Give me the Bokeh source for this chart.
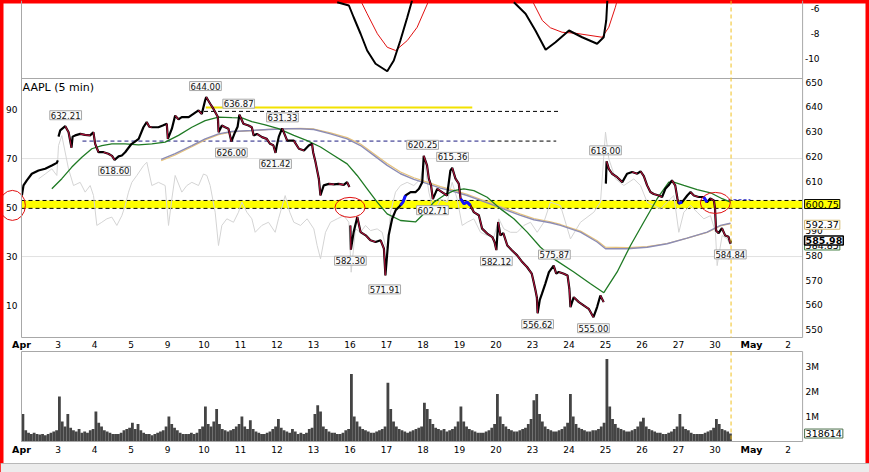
from bokeh.plotting import figure
from bokeh.models import Range1d, Label, ColumnDataSource
from bokeh.embed import file_html
from bokeh.resources import INLINE
from bokeh.core.properties import value, field

# ------------------------------------------------------------------ data
session_labels = ["Apr", "3", "4", "5", "9", "10", "11", "12", "13", "16", "17",
                  "18", "19", "20", "23", "24", "25", "26", "27", "30", "May", "2"]
session_is_month = [True] + [False] * 19 + [True, False]

# 5-min price path (x = trading-session index, Apr 2 = 0)
price_day = [0.01, 0.055, 0.146, 0.283, 0.466, 0.649, 0.831, 0.968, 0.995,
             1.014, 1.06, 1.2, 1.29, 1.37, 1.40, 1.47, 1.61, 1.74, 1.88, 1.97,
             2.018, 2.11, 2.25, 2.38, 2.48, 2.55, 2.66, 2.75, 2.84, 2.98,
             3.02, 3.1, 3.21, 3.34, 3.43, 3.5, 3.57, 3.75, 3.87, 3.98,
             4.01, 4.12, 4.21, 4.3, 4.39, 4.58, 4.71, 4.85, 4.94,
             5.03, 5.06, 5.17, 5.26, 5.38, 5.40, 5.49, 5.58, 5.67, 5.75, 5.85, 5.92, 5.97,
             6.08, 6.22, 6.31, 6.36, 6.45, 6.59, 6.72, 6.81, 6.9, 6.96, 6.99,
             7.05, 7.14, 7.28, 7.46, 7.6, 7.74, 7.87, 7.96, 7.99,
             8.055, 8.146, 8.19, 8.28, 8.42, 8.56, 8.69, 8.83, 8.92, 8.985,
             9.01, 9.025, 9.1, 9.2, 9.29, 9.43, 9.56, 9.7, 9.84, 9.93, 9.97,
             10.06, 10.155, 10.25, 10.38, 10.45, 10.52, 10.66, 10.8, 10.89, 10.98,
             11.02, 11.11, 11.16, 11.22, 11.27, 11.39, 11.52, 11.66, 11.75, 11.8, 11.89, 11.98,
             12.03, 12.12, 12.21, 12.3, 12.39, 12.53, 12.62, 12.76, 12.9, 12.96,
             13.01, 13.06, 13.12, 13.2, 13.31, 13.44, 13.58, 13.72, 13.85, 13.98,
             14.02, 14.08, 14.12, 14.14, 14.2, 14.26, 14.35, 14.45, 14.58, 14.65, 14.72, 14.86, 14.96,
             15.01, 15.04, 15.13, 15.27, 15.4, 15.54, 15.67, 15.77, 15.86, 15.95,
             16.01, 16.03, 16.09, 16.18, 16.32, 16.46, 16.59, 16.73, 16.87, 16.96,
             17.05, 17.14, 17.23, 17.32, 17.46, 17.55, 17.64, 17.73, 17.82, 17.91, 17.97,
             18.0, 18.1, 18.24, 18.33, 18.42, 18.55, 18.69, 18.78, 18.87, 18.97,
             19.0, 19.03, 19.1, 19.19, 19.28, 19.37, 19.42, 19.44]
price_val = [604.2, 608.3, 610.3, 613.0, 614.3, 615.0, 616.3, 617.4, 618.4,
             628.0, 630.5, 632.21, 629.8, 623.5, 628.0, 628.5, 629.1, 628.7, 628.5, 629.8,
             625.1, 621.7, 621.7, 621.1, 620.2, 618.6, 620.0, 620.4, 621.7, 624.4,
             625.1, 625.9, 627.1, 631.8, 633.9, 632.0, 631.8, 631.8, 632.5, 633.2,
             627.1, 631.2, 636.5, 635.0, 635.9, 635.9, 637.2, 638.6, 637.2,
             642.6, 644.0, 641.3, 639.2, 635.9, 629.8, 632.5, 631.8, 631.2, 626.0, 629.8, 632.0, 636.87,
             633.2, 632.5, 631.8, 628.5, 629.1, 627.8, 627.1, 625.1, 624.5, 621.42, 624.0,
             628.0, 631.33, 626.4, 626.4, 623.1, 622.4, 624.4, 625.1, 621.7,
             617.7, 611.0, 604.2, 608.3, 608.9, 608.7, 608.9, 608.5, 609.6, 607.6,
             592.1, 582.3, 589.4, 595.5, 589.4, 588.1, 586.1, 585.4, 586.1, 582.7, 571.91,
             588.1, 594.8, 598.2, 600.2, 601.5, 604.2, 605.6, 605.6, 606.9, 609.6,
             620.25, 616.4, 611.0, 608.3, 602.71, 606.9, 605.6, 604.2, 614.3, 615.36, 611.0, 609.0,
             602.9, 600.9, 601.5, 600.2, 597.5, 596.2, 590.8, 588.8, 587.4, 585.4,
             582.12, 593.5, 588.1, 589.0, 584.0, 582.0, 580.0, 577.3, 575.3, 572.6,
             570.0, 566.0, 563.0, 556.62, 562.0, 564.5, 568.5, 573.2, 575.87, 572.6, 573.3, 572.6, 571.9,
             566.5, 559.1, 563.1, 561.1, 559.8, 558.4, 555.0, 559.1, 563.8, 561.1,
             609.0, 618.0, 615.0, 613.0, 611.6, 609.6, 613.0, 613.7, 613.0, 614.0,
             612.0, 608.3, 605.6, 604.8, 604.2, 603.6, 606.9, 608.3, 610.3, 608.3, 603.0,
             601.0, 601.5, 604.2, 605.6, 604.2, 603.6, 603.6, 601.5, 603.0, 602.2,
             599.0, 590.0, 589.0, 591.0, 588.0, 587.5, 584.84, 585.98]
session_gaps = [1, 9, 16]
blue_spans = [(10.37, 10.53), (12.0, 12.32), (17.99, 18.12), (18.68, 18.8)]

# moving averages
ma_fast_day = [0.831, 1.105, 1.379, 1.653, 1.927, 2.201, 2.475, 2.84, 3.206, 3.571, 3.936,
               4.302, 4.667, 5.032, 5.397, 5.763, 6.037, 6.311, 6.676, 7.041, 7.461, 7.826,
               8.192, 8.557, 8.922, 9.196, 9.470, 9.744, 10.018, 10.384, 10.795, 11.023,
               11.297, 11.571, 11.845, 12.119, 12.393, 12.758, 13.123, 13.489, 13.854,
               14.219, 14.584, 15.132, 15.589, 15.954, 16.32, 16.685, 17.05, 17.415,
               17.735, 17.872, 18.146, 18.511, 18.876, 19.196, 19.424]
ma_fast_val = [606.9, 611.0, 615.7, 619.7, 623.1, 624.4, 625.1, 625.1, 624.7, 625.1, 625.8,
               628.5, 631.8, 634.5, 635.9, 635.7, 635.6, 634.1, 632.8, 631.2, 628.5, 626.4,
               623.8, 620.4, 617.0, 612.3, 606.9, 601.5, 596.8, 594.1, 593.5, 596.8,
               601.5, 604.2, 606.2, 606.9, 606.2, 603.5, 598.8, 594.8, 589.4,
               583.3, 578.6, 573.3, 568.5, 564.9, 573.3, 584.0, 593.5, 602.9,
               609.6, 609.6, 608.3, 606.6, 605.3, 602.9, 601.5]
ma_slow_day = [3.827, 4.21, 4.667, 5.032, 5.397, 5.763, 6.311, 6.767, 7.315, 7.644, 8.009,
               8.466, 8.922, 9.288, 9.653, 10.018, 10.384, 10.749, 11.114, 11.479, 11.845,
               12.21, 12.575, 12.941, 13.306, 13.671, 14.037, 14.493, 14.767, 15.315,
               15.772, 16.0, 16.593, 17.141, 17.689, 18.237, 18.785, 19.15, 19.424]
ma_slow_val = [618.8, 621.1, 624.4, 627.1, 629.1, 630.1, 630.5, 630.9, 631.2, 631.2, 630.9,
               629.1, 627.1, 624.4, 620.4, 616.4, 613.0, 610.7, 609.0, 607.2, 605.8,
               604.2, 602.2, 600.2, 598.2, 596.2, 594.4, 593.2, 592.1, 589.4,
               585.4, 582.7, 582.7, 583.3, 584.7, 587.0, 589.4, 592.1, 593.0]
ma_slow2_val = [618.3, 620.6, 623.9, 626.7, 628.8, 629.9, 630.4, 630.9, 631.2, 631.3, 631.1,
                629.5, 627.6, 625.0, 621.1, 617.1, 613.7, 611.4, 609.6, 607.8, 606.3,
                604.7, 602.7, 600.7, 598.7, 596.7, 594.9, 593.6, 592.5, 589.8,
                585.9, 583.3, 583.1, 583.5, 584.8, 587.0, 589.3, 591.9, 592.8]

# RSI-like oscillator against the left scale
rsi_day = [0.466, 0.649, 0.831, 0.968, 1.014, 1.105, 1.288, 1.425, 1.607, 1.744, 1.881, 1.973,
           2.064, 2.201, 2.338, 2.475, 2.612, 2.749, 2.840, 2.932, 3.023, 3.160, 3.343, 3.434,
           3.571, 3.754, 3.936, 4.028, 4.119, 4.210, 4.393, 4.530, 4.667, 4.850, 4.986,
           5.078, 5.169, 5.306, 5.397, 5.489, 5.626, 5.808, 5.945, 6.037, 6.174, 6.311, 6.402,
           6.585, 6.767, 6.950, 7.041, 7.224, 7.35, 7.461, 7.644, 7.826, 8.009, 8.10, 8.192,
           8.329, 8.466, 8.649, 8.831, 8.968, 9.032, 9.151, 9.288, 9.425, 9.562, 9.744, 9.881,
           9.97, 10.037, 10.11, 10.247, 10.384, 10.566, 10.749, 10.932, 11.041, 11.16, 11.297,
           11.479, 11.662, 11.799, 11.936, 12.073, 12.21, 12.393, 12.575, 12.758, 12.941,
           13.078, 13.215, 13.397, 13.58, 13.763, 13.945, 14.128, 14.31, 14.493, 14.767, 15.04,
           15.315, 15.68, 15.863, 16.0, 16.091, 16.274, 16.502, 16.776, 16.959, 17.141, 17.324,
           17.507, 17.689, 17.872, 18.009, 18.146, 18.329, 18.511, 18.694, 18.876, 19.013,
           19.059, 19.196, 19.333, 19.424]
rsi_val = [61.7, 63.7, 65.8, 63.1, 75.3, 79.4, 65.8, 59.0, 60.3, 56.3, 59.0, 54.9,
           42.7, 44.0, 45.4, 46.1, 42.7, 46.7, 50.8, 56.3, 60.3, 63.1, 67.1, 68.5,
           59.0, 60.3, 59.0, 42.7, 53.5, 63.1, 56.3, 59.0, 60.3, 59.0, 63.7,
           63.1, 59.0, 48.1, 34.5, 42.7, 45.4, 44.0, 48.1, 52.2, 48.1, 45.4, 39.9,
           42.7, 44.0, 39.9, 45.4, 54.9, 48.1, 44.0, 42.7, 45.4, 41.3, 34.5, 29.1,
           39.9, 44.0, 45.4, 46.7, 44.0, 23.6, 41.3, 39.9, 42.7, 40.6, 41.3, 39.9,
           34.5, 33.1, 48.1, 56.3, 59.0, 60.3, 59.0, 61.7, 68.5, 56.3, 48.1,
           53.5, 52.2, 60.3, 53.5, 42.7, 44.0, 45.4, 39.9, 38.6, 37.9,
           45.4, 41.3, 39.9, 39.9, 42.7, 44.0, 39.9, 44.0, 52.2, 50.8, 37.2,
           44.0, 48.1, 52.2, 80.8, 69.9, 61.7, 59.0, 61.7, 59.0, 52.2, 50.8,
           49.5, 52.2, 54.9, 39.9, 48.1, 50.8, 48.1, 45.4, 46.7, 39.9,
           26.3, 38.6, 37.2, 34.5]

# top panel oscillator (two visible pieces each)
osc_day = [[8.65, 8.97, 9.10, 9.29, 9.47, 9.70, 10.02, 10.20, 10.38, 10.57, 10.70],
           [13.49, 13.81, 14.08, 14.36, 14.63, 15.0, 15.36, 15.77, 15.95, 16.02, 16.05]]
osc_val = [[-5.50, -5.76, -6.70, -8.02, -9.36, -10.42, -11.02, -10.16, -8.56, -6.70, -5.36],
           [-5.50, -6.42, -7.76, -9.30, -8.70, -7.76, -8.30, -8.82, -8.30, -6.96, -5.36]]
sig_day = [[9.29, 9.47, 9.75, 10.02, 10.25, 10.57, 10.84, 11.16],
           [13.99, 14.27, 14.49, 14.81, 15.18, 15.91, 16.09, 16.27, 16.32]]
sig_val = [[-5.36, -6.42, -8.02, -9.10, -9.36, -8.56, -7.50, -5.36],
           [-5.36, -6.96, -7.54, -7.90, -7.98, -8.30, -7.50, -5.90, -5.36]]

# volume per session (millions, 30-minute buckets)
vol_sessions = [
    [1.10, 0.45, 0.35, 0.30, 0.35, 0.30, 0.28, 0.30, 0.25, 0.30, 0.35, 0.40, 0.45],
    [1.80, 0.80, 0.60, 1.10, 0.55, 0.45, 0.40, 0.50, 0.35, 0.40, 0.35, 0.45, 0.50],
    [1.20, 0.75, 0.60, 0.45, 0.40, 0.35, 0.30, 0.30, 0.30, 0.35, 0.45, 0.50, 0.55],
    [0.75, 0.50, 0.70, 0.45, 0.35, 0.30, 0.30, 0.25, 0.30, 0.35, 0.40, 0.45, 0.60],
    [1.00, 0.70, 0.55, 0.45, 0.35, 0.30, 0.30, 0.30, 0.35, 0.30, 0.35, 0.50, 0.60],
    [1.40, 0.70, 0.60, 0.80, 1.30, 0.70, 0.50, 0.45, 0.40, 0.45, 0.50, 0.60, 0.70],
    [1.00, 0.60, 0.50, 0.85, 0.50, 0.40, 0.35, 0.30, 0.30, 0.35, 0.40, 0.50, 0.60],
    [0.90, 0.55, 0.45, 0.40, 0.35, 0.50, 0.40, 0.30, 0.35, 0.30, 0.35, 0.50, 0.55],
    [1.10, 1.45, 1.20, 0.60, 0.50, 0.40, 0.35, 0.35, 0.30, 0.30, 0.35, 0.45, 0.50],
    [2.70, 1.00, 0.80, 0.60, 0.50, 0.45, 0.40, 0.35, 0.35, 0.40, 0.45, 0.50, 0.60],
    [2.35, 1.30, 0.80, 0.60, 0.50, 0.45, 0.40, 0.35, 0.40, 0.45, 0.50, 0.55, 0.60],
    [1.55, 1.30, 0.90, 0.70, 0.55, 0.50, 0.45, 0.50, 0.40, 0.45, 0.50, 0.60, 0.80],
    [1.40, 0.80, 0.60, 0.50, 0.45, 0.40, 0.35, 0.35, 0.35, 0.40, 0.45, 0.55, 0.70],
    [1.90, 1.00, 0.70, 0.60, 0.50, 0.45, 0.40, 0.40, 0.45, 0.50, 0.55, 0.70, 0.90],
    [1.65, 1.90, 1.10, 0.80, 0.60, 0.50, 0.45, 0.40, 0.40, 0.45, 0.50, 0.60, 0.75],
    [1.90, 1.00, 0.70, 0.55, 0.50, 0.45, 0.40, 0.40, 0.45, 0.45, 0.50, 0.60, 0.75],
    [3.30, 1.40, 0.90, 0.70, 0.55, 0.50, 0.45, 0.40, 0.40, 0.45, 0.50, 0.60, 0.80],
    [0.95, 0.60, 0.50, 0.45, 0.40, 0.35, 0.35, 0.30, 0.30, 0.35, 0.40, 0.50, 0.60],
    [1.10, 0.60, 0.50, 0.45, 0.35, 0.30, 0.30, 0.30, 0.30, 0.35, 0.40, 0.45, 0.55],
    [0.90, 0.70, 0.50, 0.45, 0.40, 0.32],
]
buckets_per_session = 13

# zigzag swing labels
swing_text = ["632.21", "618.60", "644.00", "636.87", "626.00", "631.33", "621.42", "582.30",
              "571.91", "620.25", "602.71", "615.36", "582.12", "556.62", "575.87", "555.00",
              "618.00", "584.84"]
swing_day = [1.21, 2.55, 5.04, 5.95, 5.75, 7.15, 6.96, 9.01, 9.95, 10.99, 11.26, 11.81,
             13.01, 14.14, 14.6, 15.67, 16.0, 19.42]
swing_side = [1, -1, 1, 1, -1, 1, -1, -1, -1, 1, -1, 1, -1, -1, 1, -1, 1, -1]

# support / resistance levels
zone_low, zone_high = 599.0, 602.2
level_price = [639.8, 638.2, 626.2, 626.2, 602.5]
level_start = [5.05, 5.0, 1.67, 12.85, 19.37]
level_end = [12.35, 14.7, 12.85, 14.65, 19.97]
last_bar_day = 19.44

circle_day = [-0.25, 9.0, 19.01]
circle_price = [600.2, 599.4, 601.2]

# axis ticks
price_ticks = list(range(550, 651, 10))
rsi_ticks = [10, 30, 50, 70, 90]
osc_ticks = [-6, -8, -10]
vol_ticks = [1, 2, 3]

# right-edge value tags
tag_text = ["600.75", "592.37", "584.85", "585.98"]
tag_price = [600.75, 592.37, 584.0, 585.98]
vol_last = 318614

# ------------------------------------------------------------------ layout / style
FONT = "DejaVu Sans"
W, H = 869, 472
X0 = 21          # pixel column of session 0
PXD = 36.5       # pixels per session
X_END = 21.4     # right edge of the plotting panels (sessions)
TOP_BOT = 78
MAIN_TOP, MAIN_BOT = 78, 337
VOL_TOP, VOL_BOT = 351, 441
DATE_ROW_1, DATE_ROW_2 = 344, 449
TOOL_ROW = 463
GRAY = "#a8a8a8"
level_color = ["#f2e200", "#000000", "#1c1c80", "#000000", "#3030c8"]
level_dash = ["solid", "4 3", "4 3", "4 3", "3 2"]
level_width = [2, 1, 1, 1, 1]
circle_w = [26, 30, 30]
circle_h = [30, 20, 21]
tag_fill = ["#ffff00", "#ffffff", "#ffffff", "#ffffff"]
tag_border = ["#000000", "#d2b870", "#3c7a3c", "#000000"]
tag_bold = [False, False, False, True]


def panel_range(lo, hi, top_row, bot_row):
    scale = (bot_row - top_row) / (hi - lo)
    return Range1d(lo - (H - bot_row) / scale, hi + top_row / scale)


p = figure(width=W, height=H, output_backend="svg", toolbar_location=None,
           x_range=Range1d(-X0 / PXD, (W - X0) / PXD),
           y_range=panel_range(546.8, 651.5, MAIN_TOP, MAIN_BOT),
           x_axis_location=None, y_axis_location=None, min_border=0)
p.extra_y_ranges = {
    "rsi": panel_range(-3.06, 102.7, MAIN_TOP, MAIN_BOT),
    "osc": panel_range(-11.6, -5.36, 0, TOP_BOT),
    "vol": panel_range(0, 3.6, VOL_TOP, VOL_BOT),
    "row": Range1d(H, 0),
}
p.grid.visible = False
p.background_fill_color = "white"
p.border_fill_color = "white"
p.outline_line_color = "#ff0000"
p.outline_line_width = 6

XL, XR = p.x_range.start, p.x_range.end

# ---- bottom toolbar strip
p.quad(left=[XL], right=[XR], top=[TOOL_ROW], bottom=[H], y_range_name="row",
       fill_color="#ececec", line_color=None)
p.segment(x0=[XL], x1=[XR], y0=[TOOL_ROW], y1=[TOOL_ROW], y_range_name="row",
          line_color="#b8b8b8")

# ---- main panel underlay
p.quad(left=[0], right=[X_END], bottom=[zone_low], top=[zone_high],
       fill_color="#ffff00", line_color=None)
for g in (70, 30):
    p.segment(x0=[0], x1=[X_END], y0=[g], y1=[g], y_range_name="rsi",
              line_color="#e2e2e2", line_width=1)
for lv in (zone_low, zone_high):
    p.segment(x0=[0], x1=[X_END], y0=[lv], y1=[lv], line_color="#000000",
              line_dash="4 3", line_width=1)

p.line(rsi_day, rsi_val, y_range_name="rsi", line_color="#d4d4d4", line_width=1)

for i in range(len(level_price)):
    p.segment(x0=[level_start[i]], y0=[level_price[i]], x1=[level_end[i]],
              y1=[level_price[i]], line_color=level_color[i],
              line_dash=level_dash[i], line_width=level_width[i])

p.line(ma_slow_day, ma_slow2_val, line_color="#e6c27a", line_width=1.2)
p.line(ma_slow_day, ma_slow_val, line_color="#8c8cb4", line_width=1.4)
p.line(ma_fast_day, ma_fast_val, line_color="#1f7a24", line_width=1.3)


def crosses_gap(a, b):
    return any(a < g <= b for g in session_gaps)


px, py = [], []
for i, (d, v) in enumerate(zip(price_day, price_val)):
    if i > 0 and crosses_gap(price_day[i - 1], d):
        px.append(float("nan"))
        py.append(float("nan"))
    px.append(d)
    py.append(v)
p.line(px, py, line_color="#000000", line_width=2.2)

dx0, dy0, dx1, dy1 = [], [], [], []
for i in range(len(price_day) - 1):
    if crosses_gap(price_day[i], price_day[i + 1]):
        continue
    if price_val[i + 1] < price_val[i]:
        dx0.append(price_day[i]); dy0.append(price_val[i])
        dx1.append(price_day[i + 1]); dy1.append(price_val[i + 1])
p.segment(x0=dx0, y0=dy0, x1=dx1, y1=dy1, line_color="#b3123c", line_width=1.1)

for a, b in blue_spans:
    idx = [i for i, d in enumerate(price_day) if a <= d <= b]
    p.line([price_day[i] for i in idx], [price_val[i] for i in idx],
           line_color="#1414ff", line_width=3)

p.ellipse(x=circle_day, y=circle_price, width=circle_w, height=circle_h,
          width_units="screen", height_units="screen",
          fill_color=None, line_color="#e01010", line_width=1)

# ---- top oscillator panel
p.multi_line(sig_day, sig_val, y_range_name="osc", line_color="#e01010", line_width=1)
p.multi_line(osc_day, osc_val, y_range_name="osc", line_color="#000000", line_width=2)

# ---- volume panel
vx, vt = [], []
for s, vals in enumerate(vol_sessions):
    for k, v in enumerate(vals):
        vx.append(s + (k + 0.5) / buckets_per_session)
        vt.append(v)
p.vbar(x=vx, top=vt, bottom=0, width=1.0 / buckets_per_session, y_range_name="vol",
       fill_color="#444444", line_color=None)

# ---- panel frames
p.segment(x0=[0, X_END, 0, 0, 0, 0, 0, X_END],
          x1=[0, X_END, X_END, X_END, X_END, X_END, 0, X_END],
          y0=[0, 0, MAIN_TOP, MAIN_BOT, VOL_TOP, VOL_BOT, VOL_TOP, VOL_TOP],
          y1=[MAIN_BOT, MAIN_BOT, MAIN_TOP, MAIN_BOT, VOL_TOP, VOL_BOT, VOL_BOT, VOL_BOT],
          y_range_name="row", line_color=GRAY, line_width=1)
p.segment(x0=[last_bar_day, last_bar_day], x1=[last_bar_day, last_bar_day],
          y0=[0, VOL_TOP], y1=[MAIN_BOT, VOL_BOT], y_range_name="row",
          line_color="#f0c020", line_dash="4 3", line_width=1)

# ---- axis labels (right and left scales)
AX_R = X_END + 3 / PXD
AX_L = -4 / PXD
tick_font = dict(text_font=value(FONT), text_font_size=value("9px"), text_color="#000000",
                 text_baseline="middle")
p.text(x=[AX_R] * len(price_ticks), y=price_ticks, text=[str(t) for t in price_ticks],
       text_align="left", **tick_font)
p.text(x=[X_END + 17 / PXD] * len(osc_ticks), y=osc_ticks, text=[str(t) for t in osc_ticks],
       y_range_name="osc", text_align="right", **tick_font)
p.text(x=[AX_R] * len(vol_ticks), y=vol_ticks, text=["%dM" % t for t in vol_ticks],
       y_range_name="vol", text_align="left", **tick_font)
p.text(x=[AX_L] * len(rsi_ticks), y=rsi_ticks, text=[str(t) for t in rsi_ticks],
       y_range_name="rsi", text_align="right", **tick_font)

# ---- date labels
date_src = ColumnDataSource(dict(
    x=list(range(len(session_labels))), text=session_labels,
    fstyle=["bold" if m else "normal" for m in session_is_month],
    fsize=["9.5px" if m else "9px" for m in session_is_month]))
for row in (DATE_ROW_1, DATE_ROW_2):
    p.text(x="x", y=row, text="text", source=date_src, y_range_name="row",
           text_align="center", text_baseline="middle", text_font=value(FONT),
           text_font_size=field("fsize"), text_font_style=field("fstyle"),
           text_color="#000000")

# ---- swing labels
for t, d, s in zip(swing_text, swing_day, swing_side):
    off = (14 if t == "571.91" else 11) * s
    p.add_layout(Label(x=d, y=float(t), y_offset=off, text=t, text_font=FONT,
                       text_font_size="8.5px", text_align="center",
                       text_baseline="middle", text_color="#111111",
                       background_fill_color="#fbfbfb", border_line_color="#a8a8a8",
                       padding=1))

p.add_layout(Label(x=0.03, y=650.6, text="AAPL (5 min)", text_font=FONT,
                   text_font_size="11px", text_align="left", text_baseline="top",
                   text_color="#000000"))

for t, yv, fc, bc, bold in zip(tag_text, tag_price, tag_fill, tag_border, tag_bold):
    p.add_layout(Label(x=X_END + 2 / PXD, y=yv, text=t, text_font=FONT,
                       text_font_size="9.5px", text_align="left",
                       text_baseline="middle", text_color="#000000",
                       text_font_style="bold" if bold else "normal",
                       background_fill_color=fc, border_line_color=bc,
                       border_line_width=1.5 if bold else 1, padding=1))
p.add_layout(Label(x=X_END + 2 / PXD, y=vol_last / 1e6, y_range_name="vol",
                   text=str(vol_last), text_font=FONT,
                   text_font_size="9.5px", text_align="left", text_baseline="middle",
                   text_color="#000000", background_fill_color="#ffffff",
                   border_line_color="#4a6e4a", padding=1))

open("out.html", "w").write(file_html(p, INLINE))
